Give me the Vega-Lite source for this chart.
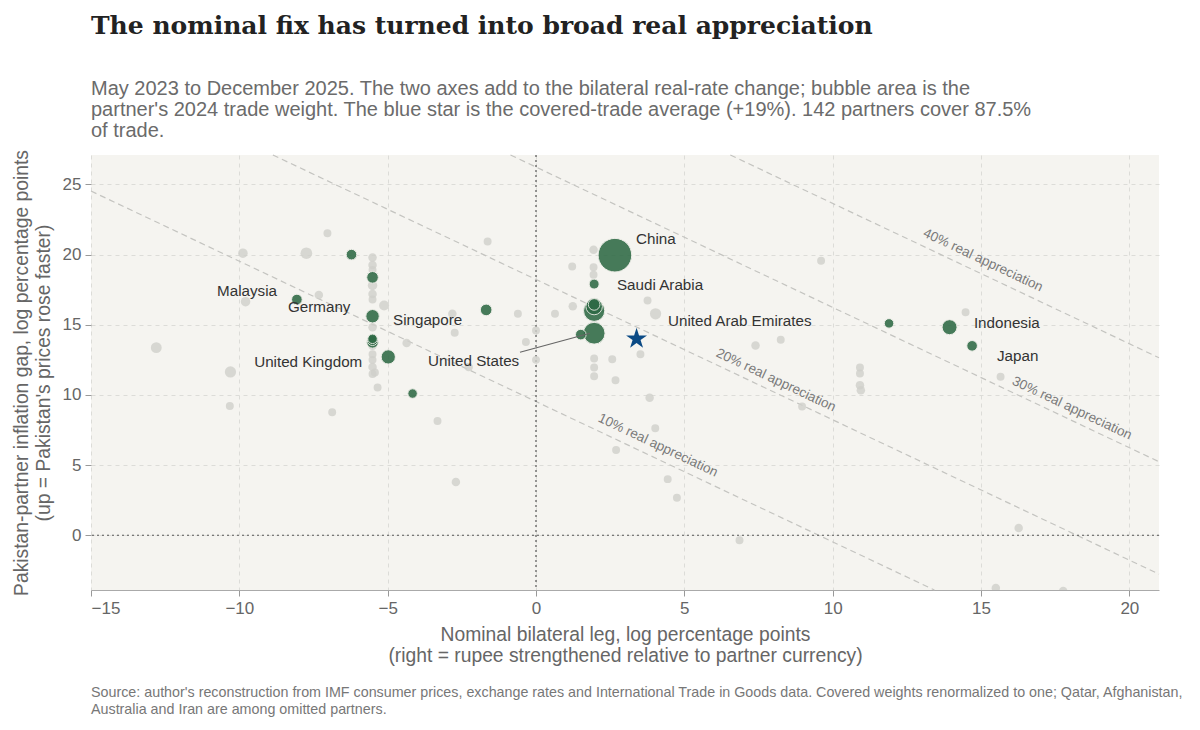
{
  "$schema": "https://vega.github.io/schema/vega-lite/v6.json",
  "width": 1068,
  "height": 435,
  "autosize": "none",
  "padding": {"left": 91, "top": 155, "right": 41, "bottom": 140},
  "background": "white",
  "title": {
    "text": "The nominal fix has turned into broad real appreciation",
    "subtitle": [
      "May 2023 to December 2025. The two axes add to the bilateral real-rate change; bubble area is the",
      "partner's 2024 trade weight. The blue star is the covered-trade average (+19%). 142 partners cover 87.5%",
      "of trade."
    ],
    "anchor": "start",
    "frame": "group",
    "font": "DejaVu Serif",
    "fontSize": 25,
    "fontWeight": "bold",
    "color": "#222222",
    "subtitleFont": "Liberation Sans",
    "subtitleFontSize": 20,
    "subtitleColor": "#6b6b6b",
    "subtitleLineHeight": 21,
    "subtitlePadding": 40,
    "offset": 9
  },
  "datasets": {
    "partnersOther": [
      {"x": -7.03, "y": 21.52, "w": 0.014},
      {"x": -9.88, "y": 20.1, "w": 0.02},
      {"x": -7.74, "y": 20.1, "w": 0.03},
      {"x": -1.63, "y": 20.93, "w": 0.014},
      {"x": -5.51, "y": 19.8, "w": 0.016},
      {"x": -5.51, "y": 19.26, "w": 0.016},
      {"x": -5.51, "y": 18.9, "w": 0.014},
      {"x": -5.51, "y": 17.8, "w": 0.02},
      {"x": -5.51, "y": 17.2, "w": 0.016},
      {"x": -5.51, "y": 16.8, "w": 0.014},
      {"x": -5.51, "y": 14.83, "w": 0.016},
      {"x": -5.51, "y": 13.5, "w": 0.016},
      {"x": -5.51, "y": 12.9, "w": 0.014},
      {"x": -5.51, "y": 12.5, "w": 0.014},
      {"x": -5.51, "y": 12.0, "w": 0.016},
      {"x": -5.51, "y": 11.5, "w": 0.014},
      {"x": -7.32, "y": 17.13, "w": 0.016},
      {"x": -9.79, "y": 16.65, "w": 0.02},
      {"x": -5.12, "y": 16.37, "w": 0.022},
      {"x": -12.8, "y": 13.37, "w": 0.026},
      {"x": -10.3, "y": 11.64, "w": 0.028},
      {"x": -4.36, "y": 13.7, "w": 0.016},
      {"x": -2.82, "y": 15.78, "w": 0.016},
      {"x": -2.74, "y": 14.43, "w": 0.014},
      {"x": -0.61, "y": 15.78, "w": 0.014},
      {"x": -0.34, "y": 13.77, "w": 0.014},
      {"x": 0.0, "y": 14.6, "w": 0.014},
      {"x": 0.0, "y": 12.5, "w": 0.014},
      {"x": -2.27, "y": 12.0, "w": 0.016},
      {"x": -5.43, "y": 11.6, "w": 0.014},
      {"x": -5.34, "y": 10.53, "w": 0.014},
      {"x": 1.94, "y": 20.34, "w": 0.016},
      {"x": 1.22, "y": 19.16, "w": 0.014},
      {"x": 1.94, "y": 19.1, "w": 0.014},
      {"x": 1.94, "y": 18.57, "w": 0.014},
      {"x": 1.24, "y": 16.32, "w": 0.016},
      {"x": 0.64, "y": 15.78, "w": 0.014},
      {"x": 3.76, "y": 16.73, "w": 0.014},
      {"x": 4.03, "y": 15.78, "w": 0.028},
      {"x": 9.61, "y": 19.56, "w": 0.014},
      {"x": 14.48, "y": 15.9, "w": 0.014},
      {"x": 1.96, "y": 12.6, "w": 0.014},
      {"x": 2.57, "y": 12.54, "w": 0.014},
      {"x": 1.96, "y": 11.95, "w": 0.014},
      {"x": 1.96, "y": 11.33, "w": 0.014},
      {"x": 2.68, "y": 11.05, "w": 0.014},
      {"x": 3.52, "y": 12.9, "w": 0.014},
      {"x": 7.4, "y": 13.53, "w": 0.016},
      {"x": 8.25, "y": 13.94, "w": 0.014},
      {"x": 10.92, "y": 11.95, "w": 0.014},
      {"x": 10.92, "y": 11.53, "w": 0.014},
      {"x": 10.92, "y": 10.7, "w": 0.016},
      {"x": 10.95, "y": 10.34, "w": 0.016},
      {"x": 15.66, "y": 11.29, "w": 0.014},
      {"x": 3.83, "y": 9.8, "w": 0.016},
      {"x": 8.97, "y": 9.17, "w": 0.014},
      {"x": 4.02, "y": 7.62, "w": 0.014},
      {"x": 2.7, "y": 6.07, "w": 0.014},
      {"x": 4.44, "y": 4.0, "w": 0.014},
      {"x": 4.75, "y": 2.67, "w": 0.014},
      {"x": 6.86, "y": -0.36, "w": 0.014},
      {"x": 16.27, "y": 0.52, "w": 0.016},
      {"x": 15.5, "y": -3.76, "w": 0.016},
      {"x": 17.77, "y": -3.98, "w": 0.016},
      {"x": -10.32, "y": 9.21, "w": 0.014},
      {"x": -6.87, "y": 8.76, "w": 0.014},
      {"x": -3.32, "y": 8.14, "w": 0.014},
      {"x": -2.7, "y": 3.79, "w": 0.016}
    ],
    "partnersMajor": [
      {"x": 2.66, "y": 19.96, "w": 0.25},
      {"x": 1.96, "y": 16.0, "w": 0.1},
      {"x": 1.96, "y": 16.3, "w": 0.06},
      {"x": 1.96, "y": 16.45, "w": 0.03},
      {"x": 1.96, "y": 14.4, "w": 0.105},
      {"x": 1.51, "y": 14.3, "w": 0.025},
      {"x": 1.96, "y": 17.9, "w": 0.022},
      {"x": 13.94, "y": 14.83, "w": 0.05},
      {"x": 14.7, "y": 13.5, "w": 0.025},
      {"x": 11.9, "y": 15.1, "w": 0.02},
      {"x": -8.06, "y": 16.8, "w": 0.025},
      {"x": -6.22, "y": 20.0, "w": 0.025},
      {"x": -5.51, "y": 18.38, "w": 0.03},
      {"x": -5.51, "y": 15.61, "w": 0.04},
      {"x": -5.51, "y": 13.75, "w": 0.03},
      {"x": -5.51, "y": 13.9, "w": 0.025},
      {"x": -5.51, "y": 14.0, "w": 0.02},
      {"x": -4.98, "y": 12.71, "w": 0.045},
      {"x": -1.68, "y": 16.06, "w": 0.03},
      {"x": -4.16, "y": 10.1, "w": 0.02}
    ],
    "avgPoint": [{"x": 3.39, "y": 14.0}],
    "isoLines": [
      {"r": "10%", "x1": -15, "y1": 24.53, "x2": 13.43, "y2": -3.9},
      {"r": "20%", "x1": -8.87, "y1": 27.1, "x2": 21, "y2": -2.77},
      {"r": "30%", "x1": -0.86, "y1": 27.1, "x2": 21, "y2": 5.24},
      {"r": "40%", "x1": 6.55, "y1": 27.1, "x2": 21, "y2": 12.65}
    ],
    "isoText": [
      {"txt": "10% real appreciation", "x": 4.11, "y": 6.41},
      {"txt": "20% real appreciation", "x": 8.09, "y": 11.05},
      {"txt": "30% real appreciation", "x": 18.07, "y": 9.05},
      {"txt": "40% real appreciation", "x": 15.07, "y": 19.6}
    ],
    "countryNames": [
      {"name": "China", "x": 3.37, "y": 21.1},
      {"name": "Saudi Arabia", "x": 2.73, "y": 17.82},
      {"name": "United Arab Emirates", "x": 4.45, "y": 15.25},
      {"name": "Indonesia", "x": 14.76, "y": 15.11},
      {"name": "Japan", "x": 15.54, "y": 12.76},
      {"name": "Malaysia", "x": -10.75, "y": 17.39},
      {"name": "Germany", "x": -8.36, "y": 16.25},
      {"name": "Singapore", "x": -4.82, "y": 15.32},
      {"name": "United Kingdom", "x": -9.5, "y": 12.33},
      {"name": "United States", "x": -3.64, "y": 12.4}
    ],
    "leaderLine": [{"x1": -0.54, "y1": 13.04, "x2": 1.82, "y2": 14.4}],
    "zeroLine": [{"v": 0}],
    "sourceNote": [
      {"txt": "Source: author's reconstruction from IMF consumer prices, exchange rates and International Trade in Goods data. Covered weights renormalized to one; Qatar, Afghanistan,\nAustralia and Iran are among omitted partners.", "x": -15, "y": -10.75}
    ]
  },
  "layer": [
    {
      "data": {"name": "isoLines"},
      "mark": {"type": "rule", "color": "#c4c4c0", "strokeWidth": 1.2, "strokeDash": [6, 4]},
      "encoding": {
        "x": {
          "field": "x1",
          "type": "quantitative",
          "scale": {"domain": [-15, 21], "nice": false, "zero": false},
          "axis": {
            "values": [-15, -10, -5, 0, 5, 10, 15, 20],
            "title": ["Nominal bilateral leg, log percentage points", "(right = rupee strengthened relative to partner currency)"]
          }
        },
        "y": {
          "field": "y1",
          "type": "quantitative",
          "scale": {"domain": [-3.9, 27.1], "nice": false, "zero": false},
          "axis": {
            "values": [0, 5, 10, 15, 20, 25],
            "title": ["Pakistan-partner inflation gap, log percentage points", "(up = Pakistan's prices rose faster)"]
          }
        },
        "x2": {"field": "x2"},
        "y2": {"field": "y2"}
      }
    },
    {
      "data": {"name": "isoText"},
      "mark": {"type": "text", "angle": 25.3, "fontSize": 13.5, "color": "#7a7a7a", "align": "center", "baseline": "middle"},
      "encoding": {
        "x": {"field": "x", "type": "quantitative"},
        "y": {"field": "y", "type": "quantitative"},
        "text": {"field": "txt"}
      }
    },
    {
      "data": {"name": "zeroLine"},
      "mark": {"type": "rule", "color": "#555555", "strokeWidth": 1.2, "strokeDash": [2, 3]},
      "encoding": {"x": {"field": "v", "type": "quantitative"}}
    },
    {
      "data": {"name": "zeroLine"},
      "mark": {"type": "rule", "color": "#555555", "strokeWidth": 1.2, "strokeDash": [2, 3]},
      "encoding": {"y": {"field": "v", "type": "quantitative"}}
    },
    {
      "data": {"name": "partnersOther"},
      "mark": {"type": "circle", "color": "#cfcfcb", "opacity": 0.8, "clip": true},
      "encoding": {
        "x": {"field": "x", "type": "quantitative"},
        "y": {"field": "y", "type": "quantitative"},
        "size": {"field": "w", "type": "quantitative", "scale": {"domain": [0, 0.25], "range": [0, 1130]}, "legend": null}
      }
    },
    {
      "data": {"name": "partnersMajor"},
      "mark": {"type": "circle", "color": "#2e6a45", "opacity": 0.88, "stroke": "#eeeee8", "strokeWidth": 1},
      "encoding": {
        "x": {"field": "x", "type": "quantitative"},
        "y": {"field": "y", "type": "quantitative"},
        "size": {"field": "w", "type": "quantitative", "legend": null}
      }
    },
    {
      "data": {"name": "avgPoint"},
      "mark": {"type": "point", "shape": "M0,-1L0.2245,-0.309L0.951,-0.309L0.3633,0.118L0.588,0.809L0,0.382L-0.588,0.809L-0.3633,0.118L-0.951,-0.309L-0.2245,-0.309Z", "filled": true, "color": "#0b4a85", "opacity": 1, "size": 484},
      "encoding": {
        "x": {"field": "x", "type": "quantitative"},
        "y": {"field": "y", "type": "quantitative"}
      }
    },
    {
      "data": {"name": "leaderLine"},
      "mark": {"type": "rule", "color": "#666666", "strokeWidth": 1.2},
      "encoding": {
        "x": {"field": "x1", "type": "quantitative"},
        "y": {"field": "y1", "type": "quantitative"},
        "x2": {"field": "x2"},
        "y2": {"field": "y2"}
      }
    },
    {
      "data": {"name": "countryNames"},
      "mark": {"type": "text", "align": "left", "baseline": "middle", "fontSize": 15.2, "color": "#333333"},
      "encoding": {
        "x": {"field": "x", "type": "quantitative"},
        "y": {"field": "y", "type": "quantitative"},
        "text": {"field": "name"}
      }
    },
    {
      "data": {"name": "sourceNote"},
      "mark": {"type": "text", "align": "left", "baseline": "top", "fontSize": 14.3, "color": "#777777", "lineBreak": "\n", "lineHeight": 17},
      "encoding": {
        "x": {"field": "x", "type": "quantitative"},
        "y": {"field": "y", "type": "quantitative"},
        "text": {"field": "txt"}
      }
    }
  ],
  "config": {
    "font": "Liberation Sans",
    "view": {"fill": "#f5f4f0", "stroke": null},
    "axis": {
      "grid": true,
      "gridColor": "#dcdcd8",
      "gridDash": [4, 4],
      "gridWidth": 1,
      "labelFontSize": 17,
      "labelColor": "#666666",
      "titleFontSize": 19.3,
      "titleColor": "#666666",
      "titleFontWeight": "normal",
      "tickColor": "#999999",
      "tickSize": 6,
      "labelPadding": 4
    },
    "axisX": {"domain": true, "domainColor": "#aaaaaa", "titlePadding": 9},
    "axisY": {"domain": false, "titlePadding": 9}
  }
}
